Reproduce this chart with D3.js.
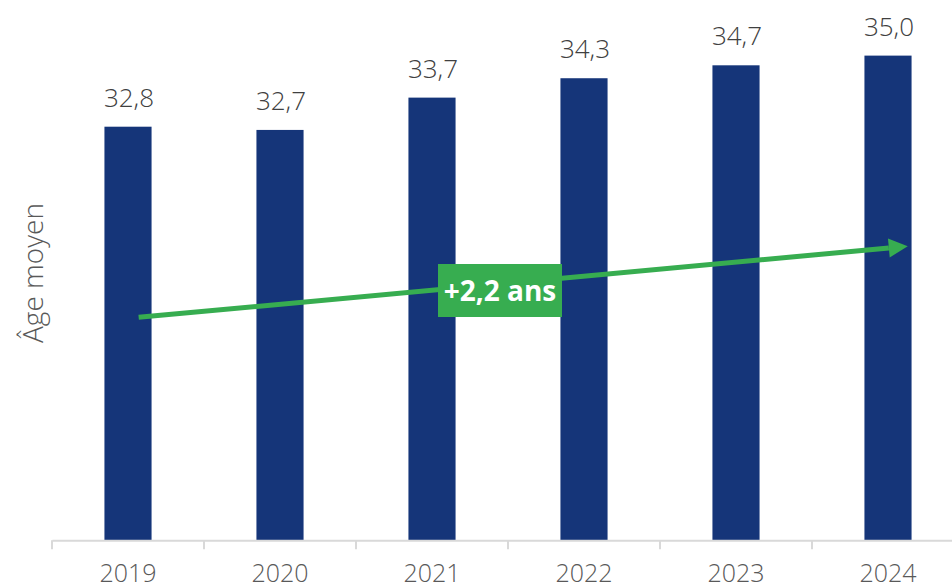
<!DOCTYPE html>
<html>
<head>
<meta charset="utf-8">
<script src="https://cdn.jsdelivr.net/npm/d3@7/dist/d3.min.js"></script>
<style>
  html, body { margin: 0; padding: 0; background: #ffffff; }
  svg { display: block; }
</style>
</head>
<body>
<script>
// ---- Data ----
const years = ["2019", "2020", "2021", "2022", "2023", "2024"];
const avgAge = [32.8, 32.7, 33.7, 34.3, 34.7, 35.0];
const valueLabels = ["32,8", "32,7", "33,7", "34,3", "34,7", "35,0"];
const axisTitle = "Âge moyen";
const trendLabel = "+2,2 ans";
const trendStart = 26.9;   // value (in y units) where the trend arrow starts
const trendGain = 2.2;     // rise of the arrow

// ---- Layout ----
const W = 952, H = 588;
const svg = d3.select("body").append("svg").attr("width", W).attr("height", H);

const x = d3.scaleBand().domain(years).range([52, 964]).paddingInner(0).paddingOuter(0);
const y = d3.scaleLinear().domain([20, 36]).range([540.3, 23.3]);
const barW = x.bandwidth() * 0.31;
const fontFam = "'Open Sans', 'DejaVu Sans', sans-serif";

// bars
svg.append("g").selectAll("rect").data(years).join("rect")
  .attr("x", d => x(d) + x.bandwidth() / 2 - barW / 2)
  .attr("y", (d, i) => y(avgAge[i]))
  .attr("width", barW)
  .attr("height", (d, i) => y(20) - y(avgAge[i]))
  .attr("fill", "#153579");

// value labels
svg.append("g").selectAll("text").data(years).join("text")
  .attr("x", d => x(d) + x.bandwidth() / 2 + 1)
  .attr("y", (d, i) => y(avgAge[i]) - 20)
  .attr("text-anchor", "middle")
  .attr("font-family", fontFam)
  .attr("font-weight", 300)
  .attr("font-size", 26)
  .attr("fill", "#404040")
  .text((d, i) => valueLabels[i]);

// x axis
const xAxis = d3.axisBottom(x).tickSize(0).tickSizeOuter(0);
const gx = svg.append("g").attr("transform", `translate(0,${y(20)})`).call(xAxis);
gx.select(".domain").attr("stroke", "#d9d9d9").attr("stroke-width", 2);
gx.selectAll(".tick text")
  .attr("font-family", fontFam)
  .attr("font-weight", 300)
  .attr("font-size", 25)
  .attr("fill", "#595959")
  .attr("dy", 0)
  .attr("y", 42);
// separator ticks at band boundaries
svg.append("g").selectAll("line").data(years).join("line")
  .attr("x1", d => x(d)).attr("x2", d => x(d))
  .attr("y1", y(20)).attr("y2", y(20) + 9)
  .attr("stroke", "#d9d9d9").attr("stroke-width", 2);

// y axis title
svg.append("text")
  .attr("transform", `translate(43,${273}) rotate(-90)`)
  .attr("text-anchor", "middle")
  .attr("font-family", fontFam)
  .attr("font-weight", 300)
  .attr("font-size", 28)
  .attr("fill", "#595959")
  .text(axisTitle);

// trend arrow
const green = "#37ad50";
const x0 = x(years[0]) + x.bandwidth() / 2 + x.step() * 0.07;
const x1 = x(years[years.length - 1]) + x.bandwidth() / 2 + x.step() * 0.13;
const y0 = y(trendStart), y1 = y(trendStart + trendGain);
const ang = Math.atan2(y1 - y0, x1 - x0);
const headLen = 19, headHalf = 9.5;
const bx = x1 - headLen * Math.cos(ang), by = y1 - headLen * Math.sin(ang);
svg.append("line")
  .attr("x1", x0).attr("y1", y0).attr("x2", bx).attr("y2", by)
  .attr("stroke", green).attr("stroke-width", 5);
const px = -Math.sin(ang), py = Math.cos(ang);
svg.append("path")
  .attr("d", d3.line()([[x1, y1], [bx + px * headHalf, by + py * headHalf], [bx - px * headHalf, by - py * headHalf]]) + "Z")
  .attr("fill", green);

// trend label box
const boxCx = 500, boxCy = 290.5, boxW = 124, boxH = 53;
svg.append("rect")
  .attr("x", boxCx - boxW / 2).attr("y", boxCy - boxH / 2)
  .attr("width", boxW).attr("height", boxH)
  .attr("fill", green);
svg.append("text")
  .attr("x", boxCx).attr("y", boxCy + 10)
  .attr("text-anchor", "middle")
  .attr("font-family", fontFam)
  .attr("font-weight", 700)
  .attr("font-size", 28)
  .attr("fill", "#ffffff")
  .text(trendLabel);
</script>
</body>
</html>
